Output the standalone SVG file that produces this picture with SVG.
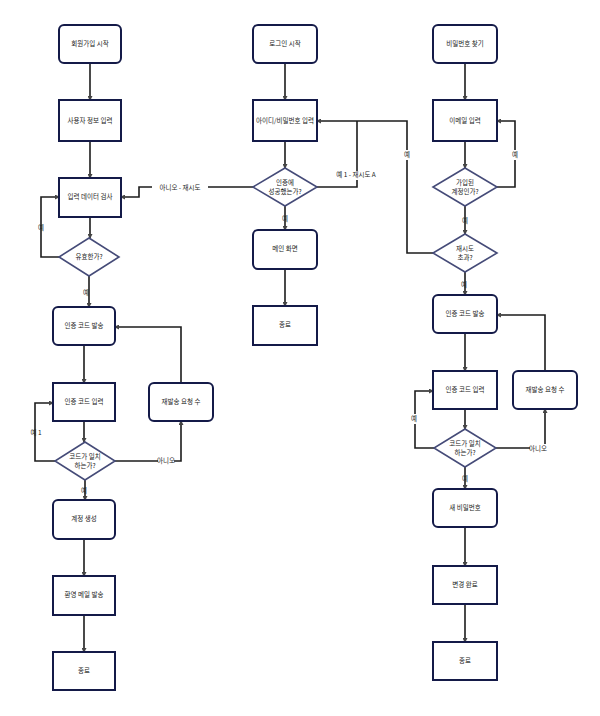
<svg xmlns="http://www.w3.org/2000/svg" width="600" height="716" viewBox="0 0 600 716">
<style>
.b{fill:#fff;stroke:#141a48;stroke-width:2}
.d{fill:#fff;stroke:#454b78;stroke-width:1.6}
.c{fill:none;stroke:#1c1c1c;stroke-width:1.6;marker-end:url(#a)}
.n{fill:none;stroke:#1c1c1c;stroke-width:1.6}
text{font-family:"Noto Sans CJK KR","Noto Sans",sans-serif;font-size:6.5px;fill:#222;text-anchor:middle;dominant-baseline:middle}
.l{fill:#fff;stroke:none}
</style>
<defs><marker id="a" markerWidth="5" markerHeight="5" refX="4" refY="2.5" orient="auto" markerUnits="userSpaceOnUse"><path d="M0,0L5,2.5L0,5z" fill="#444"/></marker></defs>
<rect width="600" height="716" fill="#fff"/>
<g id="connectors">
<path class="c" d="M90,63V100"/><path class="c" d="M90,141V178"/><path class="c" d="M90,217V238"/>
<path class="c" d="M60,257H41V197H59"/><text x="41" y="228">예</text>
<path class="c" d="M254,187H139V197H121"/><rect class="l" x="152" y="183" width="56" height="9"/><text x="180" y="188">아니오 - 재시도</text>
<path class="c" d="M89,276V307"/><text x="86" y="293">예</text>
<path class="c" d="M84,345V383"/><path class="c" d="M84,421V442"/>
<path class="c" d="M55,461H35V403H53"/><text x="36" y="433">예 1</text>
<path class="c" d="M115,461H181V421"/><rect class="l" x="158" y="457" width="16" height="9"/><text x="166" y="461">아니오</text>
<path class="c" d="M181,383V327H115"/>
<path class="c" d="M85,480V500"/><text x="84" y="491">예</text>
<path class="c" d="M84,539V576"/><path class="c" d="M84,615V652"/>
<path class="c" d="M285,63V100"/><path class="c" d="M285,141V168"/>
<path class="n" d="M317,187H357V121"/><rect class="l" x="328" y="171" width="56" height="9"/><text x="356" y="175">예 1 - 재시도 A</text>
<path class="c" d="M435,253H407V121H317"/><rect class="l" x="402" y="150" width="10" height="10"/><text x="407" y="155">예</text>
<path class="c" d="M285,206V230"/><text x="285" y="219">예</text>
<path class="c" d="M285,269V306"/>
<path class="c" d="M465,63V100"/><path class="c" d="M465,141V168"/>
<path class="c" d="M497,187H515V121H497"/><rect class="l" x="510" y="150" width="10" height="10"/><text x="515" y="155">예</text>
<path class="c" d="M465,206V234"/><text x="465" y="221">예</text>
<path class="c" d="M465,272V295"/><text x="464" y="285">예</text>
<path class="c" d="M465,333V371"/><path class="c" d="M465,409V429"/>
<path class="c" d="M434,448H415V391H433"/><rect class="l" x="408" y="414" width="12" height="10"/><text x="414" y="419">예</text>
<path class="c" d="M496,448H545V409"/><rect class="l" x="530" y="444" width="16" height="9"/><text x="538" y="449">아니오</text>
<path class="c" d="M545,371V315H497"/>
<path class="c" d="M465,467V489"/><text x="465" y="479">예</text>
<path class="c" d="M465,527V566"/><path class="c" d="M465,604V642"/>
</g>
<g id="a1"><rect class="b" x="59" y="25" width="62" height="38" rx="5"/><text x="90" y="44">회원가입 시작</text></g>
<g id="a2"><rect class="b" x="59" y="100" width="62" height="41"/><text x="90" y="121">사용자 정보 입력</text></g>
<g id="a3"><rect class="b" x="59" y="178" width="62" height="39"/><text x="90" y="197">입력 데이터 검사</text></g>
<g id="a4"><polygon class="d" points="89,238 119,257 89,276 59,257"/><text x="89" y="257">유효한가?</text></g>
<g id="a5"><rect class="b" x="53" y="307" width="62" height="38" rx="5"/><text x="84" y="326">인증 코드 발송</text></g>
<g id="a6"><rect class="b" x="53" y="383" width="62" height="38"/><text x="84" y="402">인증 코드 입력</text></g>
<g id="a7"><polygon class="d" points="85,442 115,461 85,480 55,461"/><text x="85" y="457">코드가 일치</text><text x="85" y="466">하는가?</text></g>
<g id="a8"><rect class="b" x="149" y="383" width="64" height="38" rx="5"/><text x="181" y="402">재발송 요청 수</text></g>
<g id="a9"><rect class="b" x="53" y="500" width="62" height="39" rx="5"/><text x="84" y="519">계정 생성</text></g>
<g id="a10"><rect class="b" x="53" y="576" width="62" height="39"/><text x="84" y="595">환영 메일 발송</text></g>
<g id="a11"><rect class="b" x="53" y="652" width="62" height="38"/><text x="84" y="671">종료</text></g>
<g id="b1"><rect class="b" x="253" y="25" width="64" height="38" rx="5"/><text x="285" y="44">로그인 시작</text></g>
<g id="b2"><rect class="b" x="253" y="100" width="64" height="41"/><text x="285" y="121">아이디/비밀번호 입력</text></g>
<g id="b3"><polygon class="d" points="285,168 317,187 285,206 253,187"/><text x="285" y="183">인증에</text><text x="285" y="192">성공했는가?</text></g>
<g id="b4"><rect class="b" x="253" y="230" width="64" height="39" rx="5"/><text x="285" y="249">메인 화면</text></g>
<g id="b5"><rect class="b" x="253" y="306" width="64" height="39"/><text x="285" y="325">종료</text></g>
<g id="c1"><rect class="b" x="433" y="25" width="64" height="38" rx="5"/><text x="465" y="44">비밀번호 찾기</text></g>
<g id="c2"><rect class="b" x="433" y="100" width="64" height="41"/><text x="465" y="121">이메일 입력</text></g>
<g id="c3"><polygon class="d" points="465,168 497,187 465,206 433,187"/><text x="465" y="183">가입된</text><text x="465" y="192">계정인가?</text></g>
<g id="c4"><polygon class="d" points="465,234 497,253 465,272 433,253"/><text x="465" y="249">재시도</text><text x="465" y="258">초과?</text></g>
<g id="c5"><rect class="b" x="433" y="295" width="64" height="38" rx="5"/><text x="465" y="314">인증 코드 발송</text></g>
<g id="c6"><rect class="b" x="433" y="371" width="64" height="38"/><text x="465" y="390">인증 코드 입력</text></g>
<g id="c7"><polygon class="d" points="465,429 496,448 465,467 434,448"/><text x="465" y="444">코드가 일치</text><text x="465" y="453">하는가?</text></g>
<g id="c8"><rect class="b" x="513" y="371" width="64" height="38" rx="5"/><text x="545" y="390">재발송 요청 수</text></g>
<g id="c9"><rect class="b" x="433" y="489" width="64" height="38" rx="5"/><text x="465" y="508">새 비밀번호</text></g>
<g id="c10"><rect class="b" x="433" y="566" width="64" height="38"/><text x="465" y="585">변경 완료</text></g>
<g id="c11"><rect class="b" x="433" y="642" width="64" height="38"/><text x="465" y="661">종료</text></g>
</svg>
